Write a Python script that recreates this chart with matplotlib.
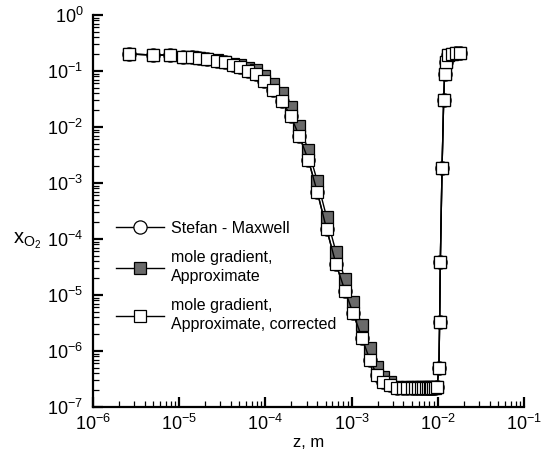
import numpy as np
import matplotlib.pyplot as plt
from matplotlib.ticker import LogLocator, FuncFormatter, NullFormatter

plt.rcParams['font.family'] = ['Liberation Sans', 'DejaVu Sans']
plt.rcParams['mathtext.fontset'] = 'custom'
plt.rcParams['mathtext.rm'] = 'Liberation Sans'
plt.rcParams['mathtext.it'] = 'Liberation Sans'
plt.rcParams['mathtext.default'] = 'regular'

# z positions (m), shared by the three series
z = [2.64e-6, 5.0e-6, 7.8e-6, 1.10e-5, 1.40e-5, 1.71e-5, 2.12e-5, 2.72e-5,
     3.40e-5, 4.18e-5, 5.07e-5, 6.33e-5, 7.78e-5, 9.71e-5, 1.22e-4, 1.55e-4,
     1.97e-4, 2.47e-4, 3.15e-4, 4.00e-4, 5.14e-4, 6.59e-4, 8.38e-4, 1.04e-3,
     1.32e-3, 1.63e-3, 1.97e-3, 2.31e-3, 2.79e-3, 3.33e-3, 3.92e-3, 4.43e-3,
     4.98e-3, 5.44e-3, 5.94e-3, 6.38e-3, 6.79e-3, 7.24e-3, 7.64e-3, 8.06e-3,
     8.41e-3, 8.80e-3, 9.28e-3, 9.80e-3, 1.03e-2, 1.05e-2, 1.07e-2, 1.12e-2,
     1.17e-2, 1.20e-2, 1.24e-2, 1.32e-2, 1.45e-2, 1.62e-2, 1.80e-2]

# Stefan - Maxwell
x_sm = [0.201, 0.193, 0.193, 0.180, 0.176, 0.169, 0.162, 0.153,
        0.143, 0.128, 0.116, 0.101, 0.0873, 0.0671, 0.0458, 0.0295,
        0.0157, 6.9e-3, 2.58e-3, 6.9e-4, 1.49e-4, 3.58e-5, 1.19e-5, 4.77e-6,
        1.71e-6, 6.9e-7, 3.73e-7, 2.79e-7, 2.47e-7, 2.18e-7, 2.18e-7, 2.18e-7,
        2.18e-7, 2.18e-7, 2.18e-7, 2.18e-7, 2.18e-7, 2.18e-7, 2.18e-7, 2.18e-7,
        2.18e-7, 2.18e-7, 2.2e-7, 2.3e-7, 5.0e-7, 3.3e-6, 3.9e-5, 1.85e-3,
        0.030, 0.088, 0.145, 0.19, 0.205, 0.21, 0.21]

# mole gradient, approximate
x_approx = [0.201, 0.193, 0.193, 0.180, 0.176, 0.169, 0.162, 0.154,
            0.145, 0.133, 0.126, 0.114, 0.103, 0.0825, 0.0586, 0.0410,
            0.0228, 1.04e-2, 3.9e-3, 1.08e-3, 2.44e-4, 5.87e-5, 1.95e-5, 7.5e-6,
            2.92e-6, 1.13e-6, 5.2e-7, 3.43e-7, 2.79e-7, 2.27e-7, 2.27e-7, 2.27e-7,
            2.27e-7, 2.27e-7, 2.27e-7, 2.27e-7, 2.27e-7, 2.27e-7, 2.27e-7, 2.27e-7,
            2.27e-7, 2.27e-7, 2.27e-7, 2.3e-7, 5.0e-7, 3.3e-6, 3.9e-5, 1.85e-3,
            0.030, 0.088, 0.145, 0.19, 0.205, 0.21, 0.21]

# mole gradient, approximate, corrected
x_corr = [0.201, 0.193, 0.193, 0.180, 0.176, 0.169, 0.162, 0.153,
          0.143, 0.128, 0.116, 0.101, 0.0873, 0.0671, 0.0458, 0.0295,
          0.0157, 6.9e-3, 2.58e-3, 6.9e-4, 1.49e-4, 3.58e-5, 1.19e-5, 4.77e-6,
          1.71e-6, 6.9e-7, 3.73e-7, 2.79e-7, 2.47e-7, 2.18e-7, 2.18e-7, 2.18e-7,
          2.18e-7, 2.18e-7, 2.18e-7, 2.18e-7, 2.18e-7, 2.18e-7, 2.18e-7, 2.18e-7,
          2.18e-7, 2.18e-7, 2.2e-7, 2.3e-7, 5.0e-7, 3.3e-6, 3.9e-5, 1.85e-3,
          0.030, 0.088, 0.145, 0.19, 0.205, 0.21, 0.21]

labels = ['Stefan - Maxwell', 'mole gradient,\nApproximate',
          'mole gradient,\nApproximate, corrected']

fig = plt.figure(figsize=(5.43, 4.53), dpi=100)
ax = fig.add_axes([0.1713, 0.1015, 0.7937, 0.8654])

l1, = ax.plot(z, x_sm, '-', color='black', lw=1.0, marker='o', ms=9.5,
              mfc='white', mec='black', mew=0.9)
l2, = ax.plot(z, x_approx, '-', color='black', lw=1.0, marker='s', ms=8,
              mfc='#6a6a6a', mec='black', mew=0.9)
l3, = ax.plot(z, x_corr, '-', color='black', lw=1.0, marker='s', ms=8,
              mfc='white', mec='black', mew=0.9)

ax.set_xscale('log')
ax.set_yscale('log')
ax.set_xlim(1e-6, 1e-1)
ax.set_ylim(1e-7, 1e0)

def pow_fmt(v, pos):
    e = int(round(np.log10(v)))
    return r'$10^{%d}$' % e

ax.xaxis.set_major_locator(LogLocator(base=10, numticks=10))
ax.yaxis.set_major_locator(LogLocator(base=10, numticks=10))
ax.xaxis.set_minor_locator(LogLocator(base=10, subs=np.arange(2, 10), numticks=10))
ax.yaxis.set_minor_locator(LogLocator(base=10, subs=np.arange(2, 10), numticks=10))
ax.xaxis.set_major_formatter(FuncFormatter(pow_fmt))
ax.yaxis.set_major_formatter(FuncFormatter(pow_fmt))
ax.xaxis.set_minor_formatter(NullFormatter())
ax.yaxis.set_minor_formatter(NullFormatter())

for s in ['top', 'right']:
    ax.spines[s].set_visible(False)
for s in ['left', 'bottom']:
    ax.spines[s].set_linewidth(1.6)

ax.tick_params(which='major', direction='in', length=7, width=1.6, labelsize=13)
ax.tick_params(axis='y', which='major', pad=7)
ax.tick_params(axis='x', which='major', pad=5)
ax.tick_params(which='minor', direction='in', length=4, width=0.9)

ax.set_xlabel('z, m', fontsize=12, labelpad=1)
ax.set_ylabel(r'$x_{O_2}$', fontsize=14.5, rotation=0, va='center', ha='center')
ax.yaxis.set_label_coords(-0.152, 0.424)

leg = ax.legend([l1, l2, l3], labels, loc='upper left',
                bbox_to_anchor=(0.034, 0.495), frameon=False, fontsize=11.5,
                handlelength=3.0, handletextpad=0.45, labelspacing=0.9,
                borderpad=0)
for t in leg.get_texts():
    t.set_linespacing(1.3)

fig.text(0.515, 1.0 + 4 / 453, 'Strong blowing case',
         family='Liberation Serif', fontsize=14, ha='center', va='baseline')

fig.savefig('out.png', dpi=100)
